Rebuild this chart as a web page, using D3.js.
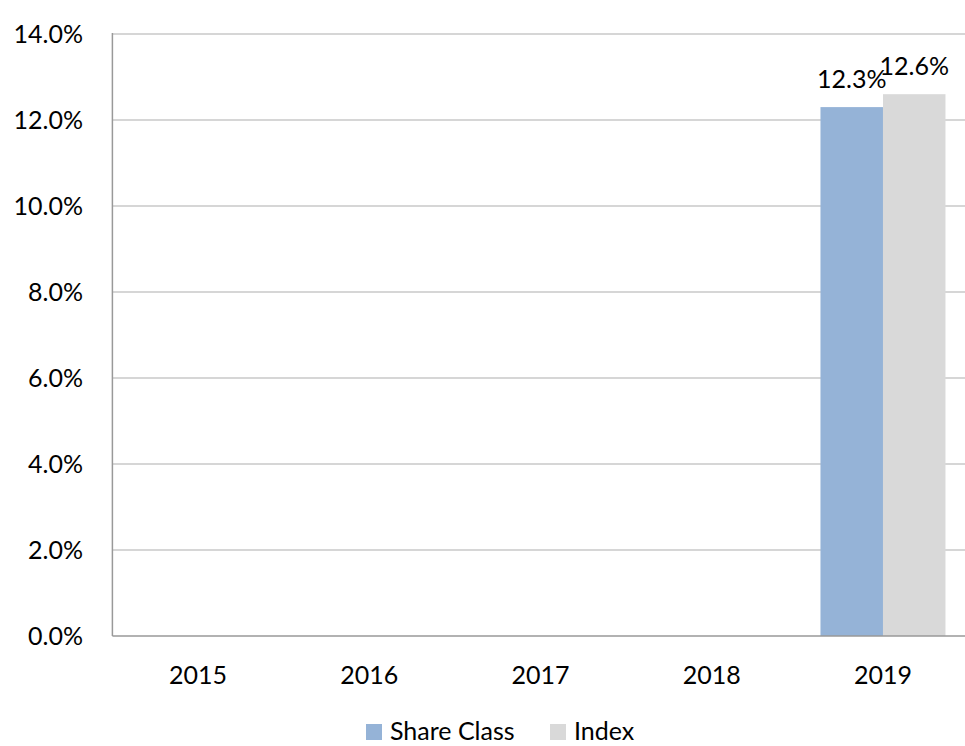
<!DOCTYPE html>
<html><head><meta charset="utf-8">
<script src="https://cdn.jsdelivr.net/npm/d3@7"></script>
<style>body{margin:0;background:#fff;} svg{display:block;} text{font-family:Lato,"Open Sans",sans-serif;fill:#000;}</style>
</head><body>
<script>
const categories = ["2015","2016","2017","2018","2019"];
const seriesNames = ["Share Class","Index"];
const shareClass = [null,null,null,null,12.3];
const indexVals = [null,null,null,null,12.6];
const yTicks = [0,2,4,6,8,10,12,14];
const colors = ["#95b3d7","#d9d9d9"];

(function(){
const W=965,H=746;
const FS="25px";
const svg=d3.select("body").append("svg").attr("width",W).attr("height",H);
const pLeft=112.4, pRight=968.6, pTop=34, pBottom=636;
const x=d3.scaleBand().domain(categories).range([pLeft,pRight]).padding(0);
const y=d3.scaleLinear().domain([0,14]).range([pBottom,pTop]);
const groupW = 125;
const x1=d3.scaleBand().domain(seriesNames).range([0,groupW]).padding(0);

// gridlines
svg.append("g").selectAll("line").data(yTicks.filter(d=>d>0)).join("line")
  .attr("x1",pLeft).attr("x2",W).attr("y1",d=>y(d)).attr("y2",d=>y(d))
  .attr("stroke","#c8c8c8").attr("stroke-width",1.5);

// y labels
svg.append("g").selectAll("text").data(yTicks).join("text")
  .attr("x",83).attr("y",d=>y(d)).attr("dy","0.36em").attr("text-anchor","end")
  .style("font-size",FS).text(d=>d.toFixed(1)+"%");

// bars
const data=categories.map((c,i)=>({cat:c,vals:[shareClass[i],indexVals[i]]}));
const g=svg.append("g");
data.forEach(d=>{
  const x0=x(d.cat)+x.bandwidth()/2-groupW/2;
  d.vals.forEach((v,j)=>{
    if(v==null) return;
    g.append("rect").attr("x",x0+x1(seriesNames[j])).attr("width",x1.bandwidth())
      .attr("y",y(v)).attr("height",y(0)-y(v)).attr("fill",colors[j]);
    g.append("text").attr("x",x0+x1(seriesNames[j])+x1.bandwidth()/2).attr("y",y(v)-19)
      .attr("text-anchor","middle").style("font-size",FS).text(v.toFixed(1)+"%");
  });
});

// axes lines
svg.append("line").attr("x1",pLeft).attr("x2",pLeft).attr("y1",pTop-1).attr("y2",pBottom).attr("stroke","#999").attr("stroke-width",1.5);
svg.append("line").attr("x1",pLeft).attr("x2",W).attr("y1",pBottom).attr("y2",pBottom).attr("stroke","#999").attr("stroke-width",1.5);

// x labels
svg.append("g").selectAll("text").data(categories).join("text")
  .attr("x",d=>x(d)+x.bandwidth()/2).attr("y",684).attr("text-anchor","middle")
  .style("font-size",FS).text(d=>d);

// legend
const leg=svg.append("g");
const legX=[366,550];
seriesNames.forEach((s,i)=>{
  leg.append("rect").attr("x",legX[i]).attr("y",724).attr("width",16).attr("height",16).attr("fill",colors[i]);
  leg.append("text").attr("x",legX[i]+24).attr("y",740).style("font-size",FS).text(s);
});
})();
</script>
</body></html>
